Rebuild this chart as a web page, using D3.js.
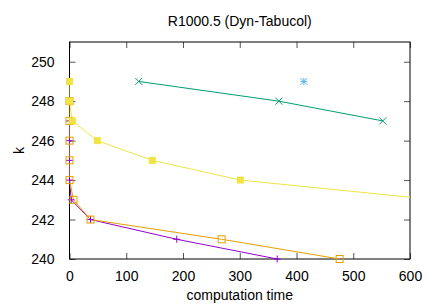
<!DOCTYPE html>
<html>
<head>
<meta charset="utf-8">
<script src="https://cdn.jsdelivr.net/npm/d3@7"></script>
<style>
body { margin:0; background:#fff; }
text { font-family: "Liberation Sans", Arial, sans-serif; fill:#000; }
</style>
</head>
<body>
<div id="chart-area"></div>
<script>
// data (x = computation time, k = colours)
var purpleTime = [0, 0, 0, 0, 3, 37, 189, 366];
var purpleK    = [247, 246, 245, 244, 243, 242, 241, 240];
var greenTime  = [122, 369, 552];
var greenK     = [249, 248, 247];
var blueTime   = [413];
var blueK      = [249];
var orangeTime = [0, 0, 0, 0, 0, 7, 37, 268, 476];
var orangeK    = [248, 247, 246, 245, 244, 243, 242, 241, 240];
var yellowTime = [0, 0, 5, 49, 146, 301, 645];
var yellowK    = [249, 248, 247, 246, 245, 244, 243];
var xTicks = [0, 100, 200, 300, 400, 500, 600];
var yTicks = [240, 242, 244, 246, 248, 250];

var series = [
    { t: purpleTime, k: purpleK, color: "#9400d3", pt: "plus" },
    { t: greenTime,  k: greenK,  color: "#009e73", pt: "cross" },
    { t: blueTime,   k: blueK,   color: "#56b4e9", pt: "star" },
    { t: orangeTime, k: orangeK, color: "#e69f00", pt: "box" },
    { t: yellowTime, k: yellowK, color: "#f0e442", pt: "fbox" }
];

var margin = { left:69.5, right:26, top:42, bottom:46 };
var width = 436 - margin.left - margin.right,
    height = 305 - margin.top - margin.bottom;

var svg = d3.select("#chart-area")
    .append("svg")
        .attr("width", 436)
        .attr("height", 305);
var g = svg.append("g")
        .attr("transform", "translate(" + margin.left + ", " + margin.top + ")");

var x = d3.scaleLinear().domain([0, 600]).range([0, width]);
var y = d3.scaleLinear().domain([240, 251]).range([height, 0]);

// title
svg.append("text")
    .attr("x", margin.left + width / 2)
    .attr("y", 26)
    .attr("font-size", "14px")
    .attr("text-anchor", "middle")
    .text("R1000.5 (Dyn-Tabucol)");

// axis labels
svg.append("text")
    .attr("x", margin.left + width / 2)
    .attr("y", 300)
    .attr("font-size", "14px")
    .attr("text-anchor", "middle")
    .text("computation time");
svg.append("text")
    .attr("transform", "translate(24," + (margin.top + height / 2) + ") rotate(-90)")
    .attr("font-size", "14px")
    .attr("text-anchor", "middle")
    .text("k");

// ticks on all four sides, pointing inward
var xAxisCall = d3.axisBottom(x).tickValues(xTicks).tickSizeInner(-6).tickSizeOuter(0).tickPadding(12);
var yAxisCall = d3.axisLeft(y).tickValues(yTicks).tickSizeInner(-6).tickSizeOuter(0).tickPadding(15);
g.append("g").attr("class", "x axis").attr("transform", "translate(0," + height + ")").call(xAxisCall);
g.append("g").attr("class", "y axis").call(yAxisCall);
g.append("g").attr("transform", "translate(0,0)")
    .call(d3.axisTop(x).tickValues(xTicks).tickSizeInner(-6).tickSizeOuter(0).tickFormat(""));
g.append("g").attr("transform", "translate(" + width + ",0)")
    .call(d3.axisRight(y).tickValues(yTicks).tickSizeInner(-6).tickSizeOuter(0).tickFormat(""));
g.selectAll(".domain").remove();
g.selectAll(".tick line").attr("stroke", "#555");
g.selectAll(".tick text").attr("font-size", "14px").attr("font-family", "Liberation Sans, Arial, sans-serif");

// border
g.append("rect")
    .attr("width", width).attr("height", height)
    .attr("fill", "none").attr("stroke", "#000").attr("stroke-width", 1);

// clip lines only; points inside the range are drawn whole
svg.append("defs").append("clipPath").attr("id", "clip")
    .append("rect").attr("x", 0).attr("y", -1).attr("width", width).attr("height", height + 2);
var plot = g.append("g").attr("clip-path", "url(#clip)");
var marks = g.append("g");

var line = d3.line()
    .x(function(d){ return x(d[0]); })
    .y(function(d){ return y(d[1]); });

var s = 3.5;
function marker(sel, pt, color) {
    if (pt == "box") {
        sel.append("rect").attr("x", -s).attr("y", -s).attr("width", 2*s).attr("height", 2*s)
            .attr("fill", "none").attr("stroke", color);
    } else if (pt == "fbox") {
        sel.append("rect").attr("x", -s).attr("y", -s).attr("width", 2*s).attr("height", 2*s)
            .attr("fill", color);
    } else {
        var p = "";
        if (pt == "plus" || pt == "star") p += "M" + (-s) + ",0H" + s + "M0," + (-s) + "V" + s;
        if (pt == "cross" || pt == "star") p += "M" + (-s) + "," + (-s) + "L" + s + "," + s + "M" + (-s) + "," + s + "L" + s + "," + (-s);
        sel.append("path").attr("d", p).attr("stroke", color).attr("fill", "none");
    }
}

series.forEach(function(sr) {
    var pts = sr.t.map(function(t, i){ return [t, sr.k[i]]; });
    plot.append("path")
        .datum(pts)
        .attr("d", line)
        .attr("fill", "none")
        .attr("stroke", sr.color)
        .attr("stroke-width", 1);
    marks.selectAll(null)
        .data(pts.filter(function(d){ return d[0] <= 600; }))
        .enter().append("g")
        .attr("transform", function(d){ return "translate(" + x(d[0]) + "," + y(d[1]) + ")"; })
        .each(function(){ marker(d3.select(this), sr.pt, sr.color); });
});
</script>
</body>
</html>
